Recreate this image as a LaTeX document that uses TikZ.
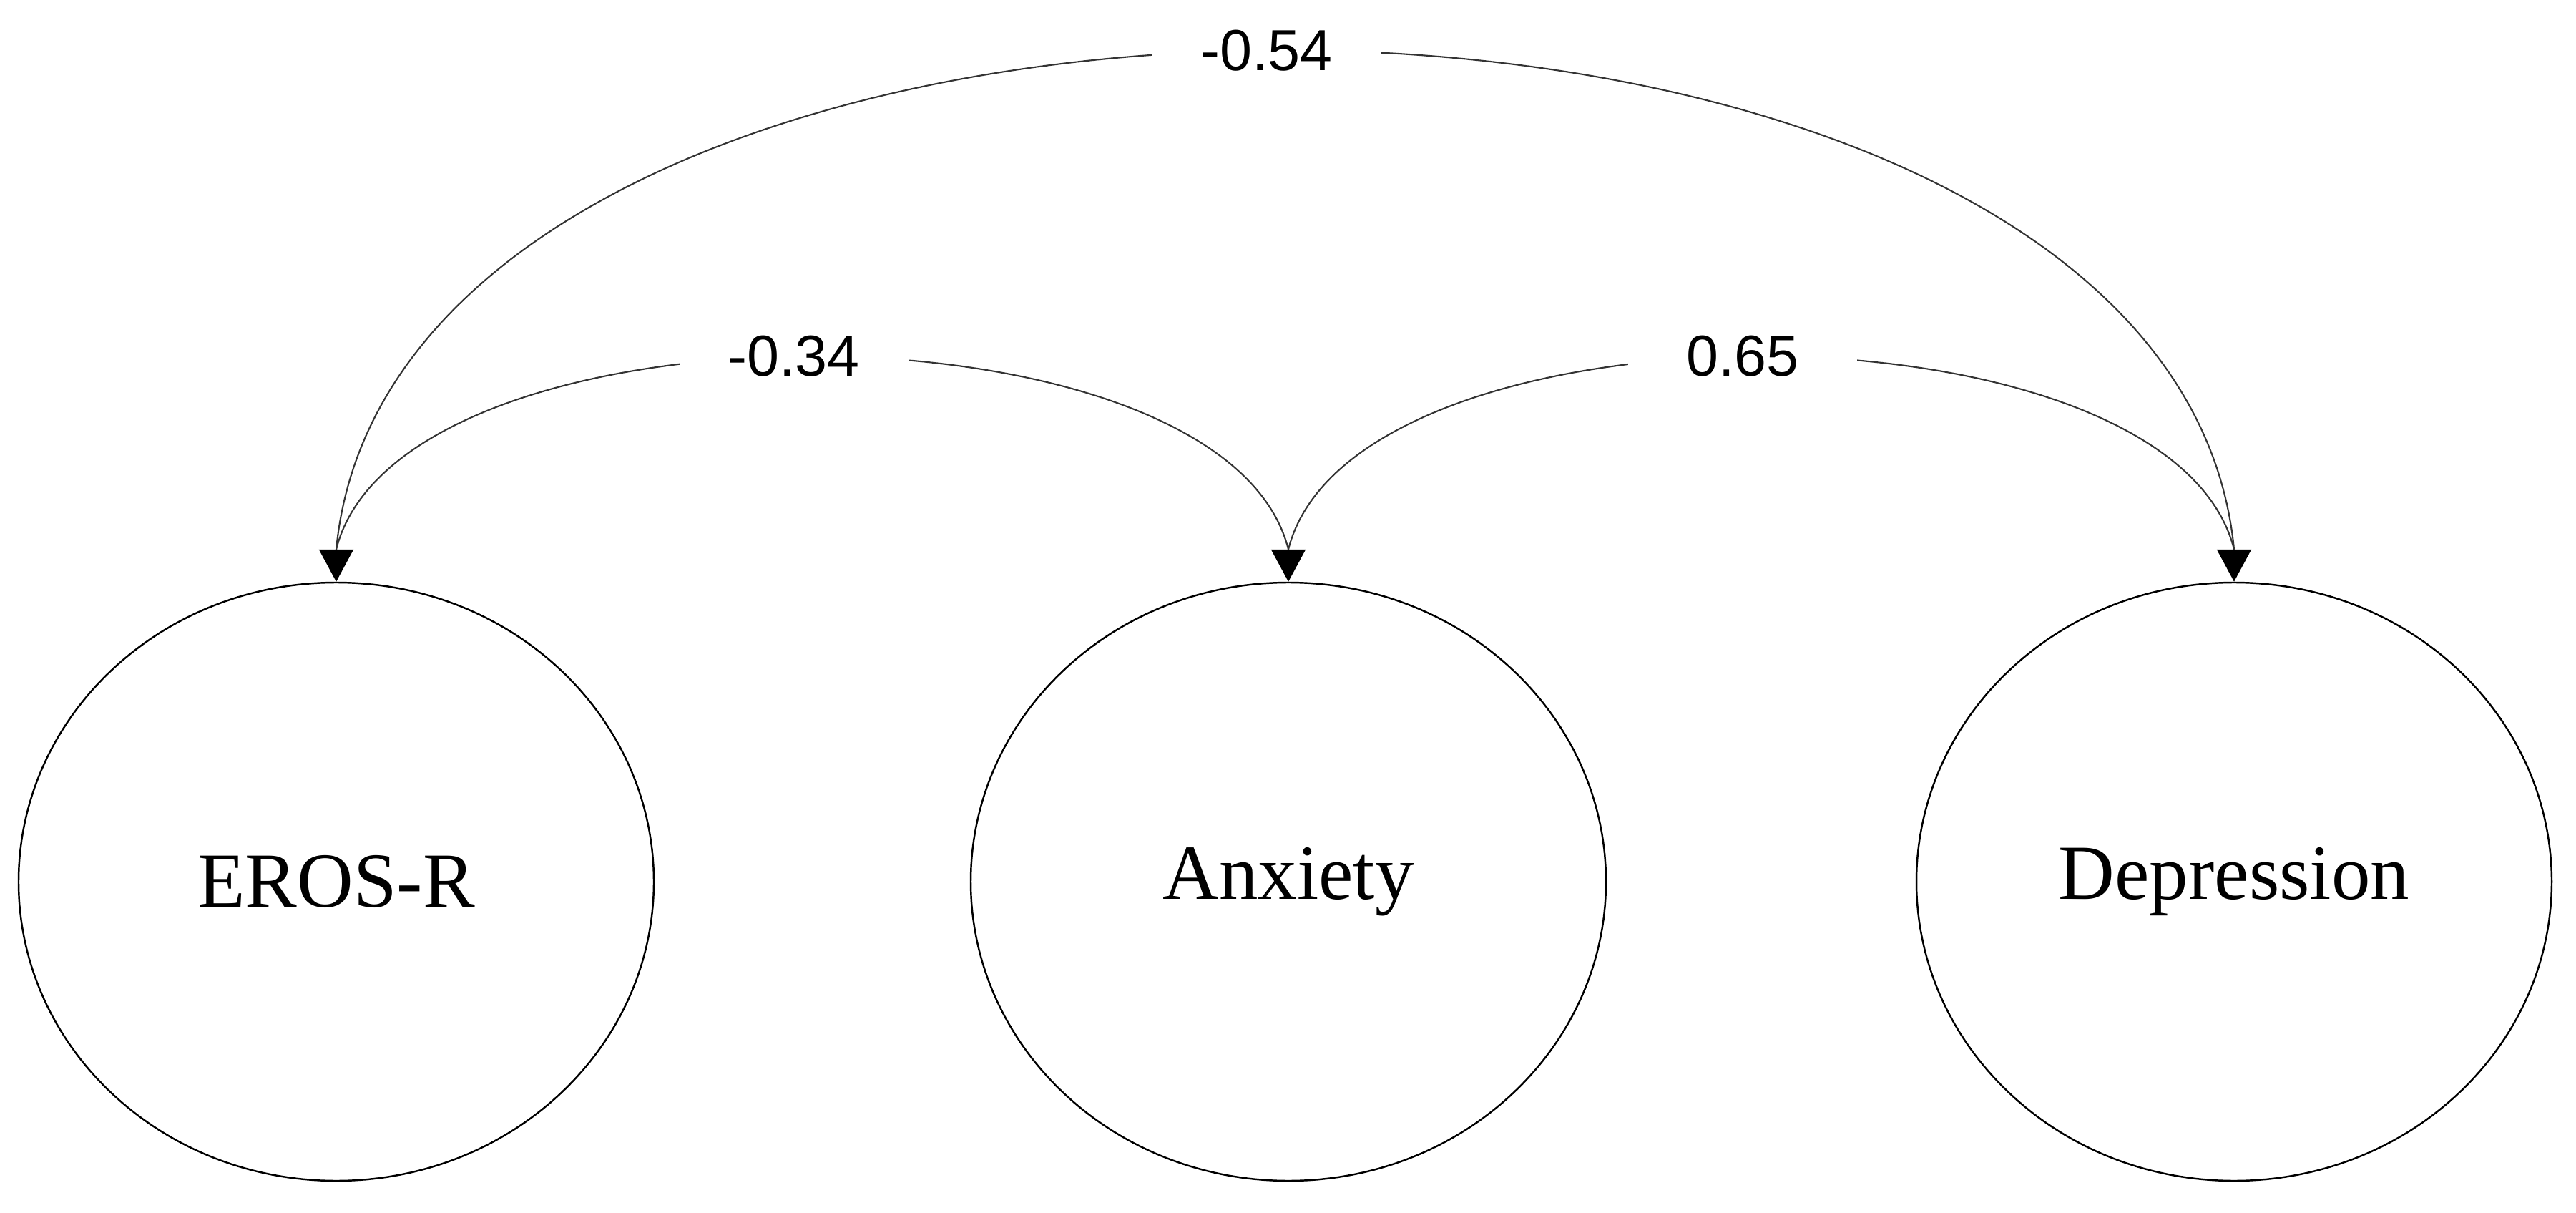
\documentclass[tikz,border=0pt]{standalone}
\usepackage{fontspec}
\setmainfont{Liberation Serif}
\newfontfamily\labfont{Liberation Sans}
\usetikzlibrary{shapes.geometric,arrows.meta}
\begin{document}
\begin{tikzpicture}[
  latent/.style={ellipse,draw=black,line width=0.7pt,minimum width=8.88cm,minimum height=8.36cm,inner sep=0pt,font=\fontsize{31}{37}\selectfont},
  cov/.style={line width=0.6pt,draw=black!80},
  head/.style={draw=black,line width=0.6pt,-{Triangle[length=0.45cm,width=0.48cm,fill=black]}},
  coef/.style={fill=white,inner sep=0pt,minimum width=3.2cm,minimum height=0.9cm,font=\labfont\fontsize{23}{27}\selectfont,xshift=-0.26cm}
]
\useasboundingbox (0,0) rectangle (36.01,-16.95);
\node[latent] (eros) at (4.70,-12.32) {EROS-R};
\node[latent] (anx) at (18.01,-12.32) {Anxiety};
\node[latent] (dep) at (31.23,-12.32) {Depression};
\coordinate (erosin) at ([yshift=0.45cm]eros.north);
\coordinate (anxin) at ([yshift=0.45cm]anx.north);
\coordinate (depin) at ([yshift=0.45cm]dep.north);
\draw[cov] (erosin) .. controls +(0.9,9.3) and +(-0.9,9.3) .. node[coef] (l1) {-0.54} (depin);
\draw[cov] (erosin) .. controls +(0.9,3.6) and +(-0.9,3.6) .. node[coef] (l2) {-0.34} (anxin);
\draw[cov] (anxin) .. controls +(0.9,3.6) and +(-0.9,3.6) .. node[coef] (l3) {0.65} (depin);
\draw[head] (erosin) -- (eros.north);
\draw[head] (anxin) -- (anx.north);
\draw[head] (depin) -- (dep.north);
\end{tikzpicture}
\end{document}
